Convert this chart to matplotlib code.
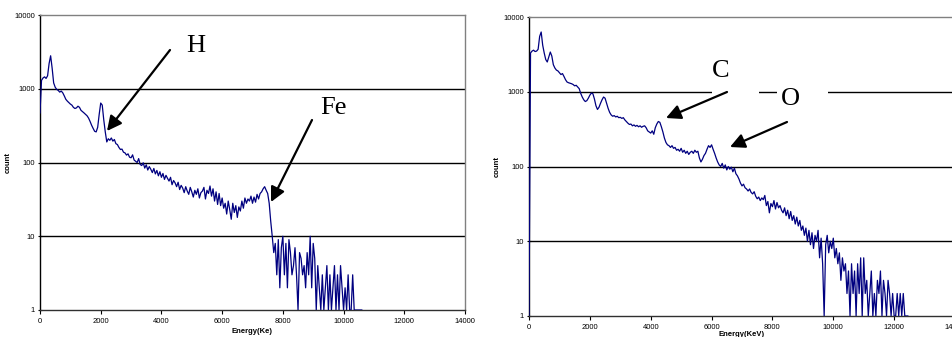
import numpy as np
import matplotlib
matplotlib.use("Agg")
import matplotlib.pyplot as plt
from matplotlib.patches import Rectangle
from matplotlib.ticker import FixedLocator, FixedFormatter

# ---------------- data ----------------
step = 50
left_counts = [
    470, 1300, 1400, 1450, 1380, 1500, 2200, 2800, 1900, 1200,   # 0-450
    1050, 980, 950, 900, 930, 880, 800, 720, 680, 650,          # 500-950
    620, 600, 560, 540, 550, 580, 560, 510, 490, 470,           # 1000-1450
    450, 430, 400, 360, 320, 290, 265, 260, 300, 450,           # 1500-1950
    640, 600, 380, 260, 190, 210, 200, 215, 195, 205,           # 2000-2450
    180, 175, 160, 150, 152, 138, 135, 126, 131, 118,           # 2500-2950
    116, 127, 108, 104, 100, 113, 94, 91, 99, 84,               # 3000-3450
    93, 79, 88, 81, 73, 83, 70, 78, 66, 75,                     # 3500-3950
    63, 71, 59, 67, 61, 56, 63, 50, 57, 53,                     # 4000-4450
    47, 54, 43, 49, 45, 39, 47, 41, 37, 46,                     # 4500-4950
    40, 34, 42, 37, 44, 33, 39, 41, 46, 32,                     # 5000-5450
    42, 38, 48, 35, 44, 30, 40, 27, 38, 26,                     # 5500-5950
    33, 24, 28, 20, 30, 23, 17, 28, 21, 26,                     # 6000-6450
    18, 25, 22, 30, 24, 33, 28, 32, 30, 35,                     # 6500-6950
    28, 34, 29, 37, 32, 38, 40, 44, 47, 42,                     # 7000-7450
    38, 28, 16, 10, 6, 8, 3, 9, 2, 7,                           # 7500-7950
    10, 3, 8, 2, 9, 6, 3, 4, 7, 3,                              # 8000-8450
    1, 6, 5, 3, 4, 2, 6, 3, 10, 2,                              # 8500-8950
    8, 5, 1, 4, 2, 1, 3, 1, 2, 4,                               # 9000-9450
    1, 3, 1, 2, 4, 1, 3, 1, 4, 2,                               # 9500-9950
    1, 2, 1, 3, 1, 1, 3, 1, 1, 1,                               # 10000-10450
    1, 1, 1,                                                    # 10500-10600
]
right_counts = [
    1, 3300, 3500, 3600, 3450, 3500, 3700, 5500, 6300, 4200,    # 0-450
    3300, 2700, 2500, 2900, 3400, 3000, 2300, 2080, 1950, 1900, # 500-950
    1800, 1700, 1750, 1600, 1450, 1350, 1320, 1300, 1280, 1250, # 1000-1450
    1200, 1220, 1160, 1100, 950, 850, 780, 740, 760, 820,       # 1500-1950
    900, 960, 940, 800, 650, 580, 620, 700, 780, 850,           # 2000-2450
    820, 700, 600, 530, 490, 470, 480, 460, 470, 450,           # 2500-2950
    455, 440, 450, 420, 400, 380, 365, 370, 350, 360,           # 3000-3450
    345, 355, 340, 350, 335, 345, 350, 330, 300, 290,           # 3500-3950
    280, 300, 270, 330, 370, 400, 390, 340, 290, 240,           # 4000-4450
    210, 195, 190, 180, 190, 175, 180, 165, 170, 160,           # 4500-4950
    175, 155, 165, 150, 160, 145, 155, 160, 150, 165,           # 5000-5450
    155, 160, 130, 115, 125, 140, 150, 170, 190, 180,           # 5500-5950
    195, 170, 150, 130, 115, 105, 100, 110, 95, 105,            # 6000-6450
    90, 100, 92, 98, 85, 95, 80, 75, 68, 60,                    # 6500-6950
    55, 58, 52, 50, 47, 50, 45, 43, 46, 40,                     # 7000-7450
    37, 39, 35, 38, 36, 41, 30, 34, 24, 32,                     # 7500-7950
    29, 35, 27, 33, 28, 30, 26, 24, 28, 22,                     # 8000-8450
    26, 20, 25, 19, 22, 17, 21, 16, 19, 14,                     # 8500-8950
    16, 12, 15, 10, 14, 9, 13, 8, 12, 10,                       # 9000-9450
    14, 6, 11, 5, 1, 9, 12, 7, 10, 8,                           # 9500-9950
    11, 6, 8, 5, 7, 3, 6, 4, 5, 2,                              # 10000-10450
    4, 1, 5, 2, 4, 1, 5, 2, 6, 1,                               # 10500-10950
    6, 2, 3, 1, 2, 4, 1, 2, 1, 3,                               # 11000-11450
    2, 4, 1, 3, 2, 1, 3, 2, 1, 2,                               # 11500-11950
    1, 1, 2, 1, 2, 1, 2, 1, 1, 1,                               # 12000-12450
]
left_energy = np.arange(len(left_counts)) * step
right_energy = np.arange(len(right_counts)) * step

y_ticks = [1, 10, 100, 1000, 10000]
y_tick_labels = ["1", "10", "100", "1000", "10000"]
x_ticks = [0, 2000, 4000, 6000, 8000, 10000, 12000, 14000]
x_tick_labels = ["0", "2000", "4000", "6000", "8000", "10000", "12000", "14000"]

# ---------------- figure ----------------
W, H = 953, 337
fig = plt.figure(figsize=(W / 100, H / 100), dpi=100)
plt.rcParams['font.family'] = ['Liberation Sans', 'DejaVu Sans']


def px(x, y):
    return (x / W, 1 - y / H)


def make_axes(rect, energy, counts, xlabel, xpad):
    ax = fig.add_axes(rect)
    ax.set_yscale('log')
    ax.set_ylim(1, 10000)
    ax.set_xlim(0, 14000)
    for yv in [10, 100, 1000]:
        ax.axhline(yv, color='black', lw=1.0, zorder=1)
    ax.plot(energy, counts, color='#000080', lw=0.9, zorder=3)
    ax.yaxis.set_major_locator(FixedLocator(y_ticks))
    ax.yaxis.set_major_formatter(FixedFormatter(y_tick_labels))
    ax.yaxis.set_minor_locator(FixedLocator([]))
    ax.xaxis.set_major_locator(FixedLocator(x_ticks))
    ax.xaxis.set_major_formatter(FixedFormatter(x_tick_labels))
    ax.tick_params(axis='both', labelsize=5.5, length=3, width=0.8,
                   direction='inout', pad=2)
    ax.tick_params(axis='x', direction='out', pad=2.5)
    ax.spines['left'].set_color('black')
    ax.spines['bottom'].set_color('#303030')
    ax.spines['top'].set_color('#808080')
    ax.spines['right'].set_color('#808080')
    for s in ax.spines.values():
        s.set_linewidth(1.0)
    ax.set_xlabel(xlabel, fontsize=5.5, fontweight='bold', labelpad=xpad)
    ax.set_ylabel('count', fontsize=5.5, fontweight='bold', labelpad=2)
    return ax


ax1 = make_axes([40 / W, 1 - 310 / H, 425 / W, 295 / H],
                left_energy, left_counts, 'Energy(Ke)', 2.5)
ax2 = make_axes([529 / W, 1 - 316 / H, 426 / W, 299 / H],
                right_energy, right_counts, 'Energy(KeV)', 0.3)

# white text boxes covering the gridline in the right panel
for (x0, y0, x1, y1) in [(712, 60, 759, 96), (777, 88, 828, 112)]:
    fig.patches.append(Rectangle(px(x0, y1), (x1 - x0) / W, (y1 - y0) / H,
                                 transform=fig.transFigure, facecolor='white',
                                 edgecolor='none', zorder=5))

serif = ['Liberation Serif', 'DejaVu Serif']
labels = [("H", 196, 46), ("Fe", 333, 108), ("C", 721, 71), ("O", 790, 99)]
for t, x, y in labels:
    fig.text(*px(x, y), t, fontsize=19, family=serif, ha='center',
             va='center', zorder=6)

arrows = [((170, 50), (107, 131)), ((312, 120), (271, 202)),
          ((727, 92), (666, 118)), ((787, 122), (730, 147))]
for (sx, sy), (tx, ty) in arrows:
    fig.patches.append(matplotlib.patches.FancyArrowPatch(
        px(sx, sy), px(tx, ty), transform=fig.transFigure,
        arrowstyle='-|>', mutation_scale=22, lw=1.6, color='black',
        shrinkA=0, shrinkB=0, zorder=7))

fig.savefig('out.png', dpi=100)
